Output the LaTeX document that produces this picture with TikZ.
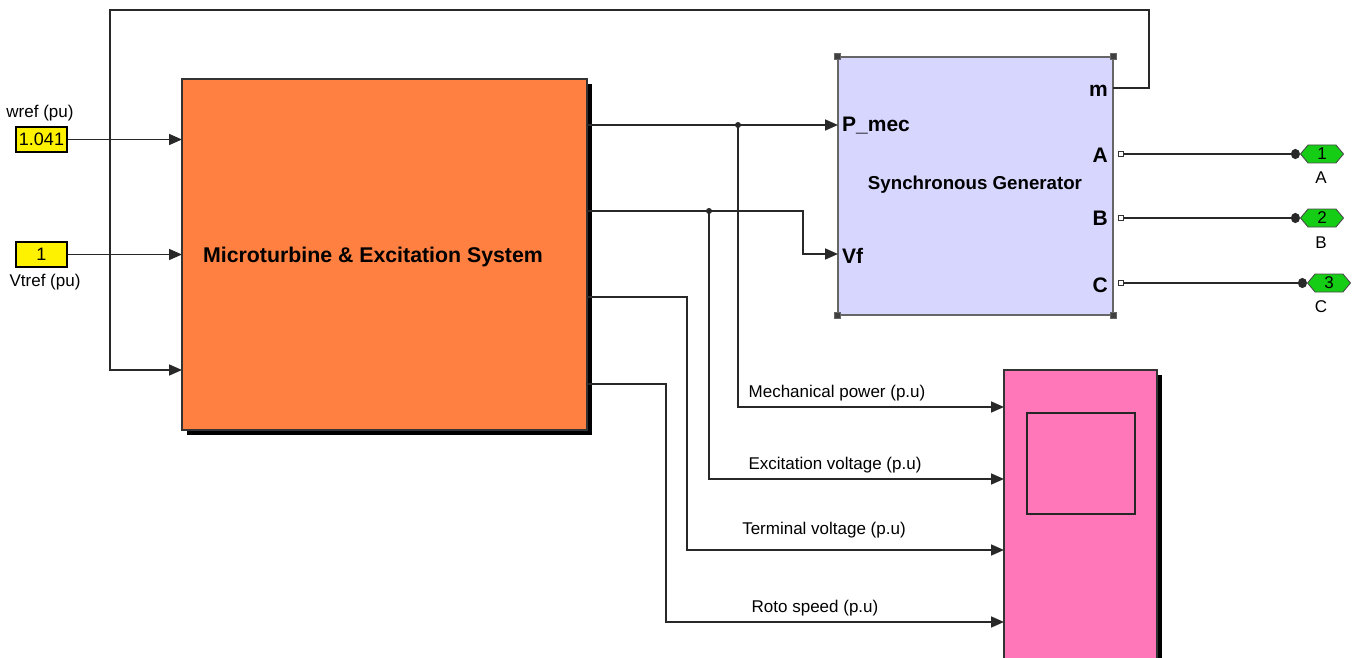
\documentclass[tikz,border=0pt]{standalone}
\usepackage{fontspec}
\setmainfont{Liberation Sans}
\usetikzlibrary{arrows.meta,shapes.symbols,shadows,calc}
\definecolor{orangeblk}{RGB}{255,128,64}
\definecolor{lavblk}{RGB}{214,214,255}
\definecolor{pinkblk}{RGB}{255,119,185}
\definecolor{portgreen}{RGB}{20,205,20}
\definecolor{wire}{RGB}{40,40,40}
\begin{document}
\begin{tikzpicture}[x=1pt,y=-1pt,
  sig/.style={draw=wire, line width=1.7pt, -{Triangle[length=13pt,width=11pt]}},
  dotend/.style={draw=wire, line width=1.7pt, -{Circle[length=9pt,width=10pt]}},
  blkshadow/.style={general shadow={fill=black, shadow xshift=5pt, shadow yshift=-5pt}},
  lbl/.style={inner sep=0pt, font=\fontsize{17}{20}\selectfont},
  plbl/.style={inner sep=0pt, font=\fontsize{21}{24}\selectfont\bfseries},
  constbox/.style={draw=black, line width=1.2pt, fill=yellow, minimum width=51pt, minimum height=25pt, inner sep=0pt, font=\fontsize{18}{20}\selectfont},
  outport/.style={shape=signal, signal to=east and west, signal pointer angle=100, fill=portgreen, draw=black!70, line width=0.9pt, minimum width=43pt, minimum height=18pt, inner sep=0pt, font=\fontsize{17}{18}\selectfont},
  handle/.style={draw=black!60, fill=black!75, minimum size=6pt, inner sep=0pt, line width=0.5pt},
  portsq/.style={draw=black!80, fill=white, minimum size=5pt, inner sep=0pt, line width=0.8pt},
  jdot/.style={circle, fill=wire, minimum size=6pt, inner sep=0pt}
]
\useasboundingbox (0,0) rectangle (1360,658);
\clip (0,0) rectangle (1360,658);
\fill[white] (0,0) rectangle (1360,658);

% main block
\node[blkshadow, draw=black!80, line width=1.2pt, fill=orangeblk, minimum width=405pt, minimum height=351pt, inner sep=0pt] (mts) at (384.5,254.5) {};
\node[inner sep=0pt, font=\fontsize{21.3}{24}\selectfont\bfseries] (mtsl) at (373,257) {Microturbine \& Excitation System};

% synchronous generator
\node[draw=black!60, line width=1.4pt, fill=lavblk, minimum width=275pt, minimum height=258pt, inner sep=0pt] (sg) at (975.5,186) {};
\node[inner sep=0pt, font=\fontsize{18.7}{22}\selectfont\bfseries] (sgl) at (975,185) {Synchronous Generator};
\node[handle] (hnw) at (sg.north west) {};
\node[handle] (hne) at (sg.north east) {};
\node[handle] (hsw) at (sg.south west) {};
\node[handle] (hse) at (sg.south east) {};
\node[plbl, anchor=west] (lpmec) at (842,126) {P\_mec};
\node[plbl, anchor=west] (lvf) at (842,256) {Vf};
\node[plbl, anchor=east] (lm) at (1108,91) {m};
\node[plbl, anchor=east] (la) at (1108,155) {A};
\node[plbl, anchor=east] (lb) at (1108,218) {B};
\node[plbl, anchor=east] (lc) at (1108,285) {C};

% scope
\node[blkshadow, draw=black!80, line width=1.2pt, fill=pinkblk, minimum width=153pt, minimum height=292pt, inner sep=0pt] (scope) at (1080.5,516) {};
\node[draw=black!85, line width=1.4pt, fill=pinkblk, minimum width=108pt, minimum height=101pt, inner sep=0pt] (scr) at (1081,463.5) {};

% constants
\node[constbox] (wref) at (41.5,139.5) {1.041};
\node[lbl] (wrefl) at (40,113) {wref (pu)};
\node[constbox] (vt) at (41.5,254.5) {1};
\node[lbl] (vtl) at (45,282) {Vtref (pu)};

% ports coordinates
\coordinate (in1) at (182,139.5);
\coordinate (in2) at (182,254.5);
\coordinate (in3) at (182,370);
\coordinate (o1) at (587,125);
\coordinate (o2) at (587,211);
\coordinate (o3) at (587,297);
\coordinate (o4) at (587,384);
\coordinate (pmec) at (838,125);
\coordinate (vf) at (838,254);
\coordinate (vfb) at (803,254);
\coordinate (mport) at (1113,88);
\coordinate (fb1) at (1149,10);
\coordinate (fb2) at (110,370);
\coordinate (j1) at (738,125);
\coordinate (j2) at (709,211);
\coordinate (s1) at (1004,407);
\coordinate (s2) at (1004,479);
\coordinate (s3) at (1004,550);
\coordinate (s4) at (1004,622);
\coordinate (b3) at (687,550);
\coordinate (b4) at (666,622);

% feedback loop
\draw[sig] (mport) -| (fb1) -| (fb2) -- (in3);
% constant inputs
\draw[sig] (wref.east) -- (in1);
\draw[sig] (vt.east) -- (in2);

% outputs
\draw[sig] (o1) -- (pmec);
\draw[sig] (o2) -| (vfb) -- (vf);
\draw[sig] (j1) |- (s1);
\draw[sig] (j2) |- (s2);
\draw[sig] (o3) -| (b3) -- (s3);
\draw[sig] (o4) -| (b4) -- (s4);
\node[jdot] (jd1) at (j1) {};
\node[jdot] (jd2) at (j2) {};

\node[lbl] (t1) at (837,393) {Mechanical power (p.u)};
\node[lbl] (t2) at (835,465) {Excitation voltage (p.u)};
\node[lbl] (t3) at (824,530) {Terminal voltage (p.u)};
\node[lbl] (t4) at (815,608) {Roto speed (p.u)};

% outports
\node[portsq] (pa) at (1121,154) {};
\node[portsq] (pb) at (1121,218) {};
\node[portsq] (pc) at (1121,283) {};
\node[outport] (h1) at (1322,154) {1};
\node[outport] (h2) at (1322,218) {2};
\node[outport] (h3) at (1329,283) {3};
\draw[dotend] (pa.east) -- (h1.west);
\draw[dotend] (pb.east) -- (h2.west);
\draw[dotend] (pc.east) -- (h3.west);
\node[lbl] (ha) at (1321,178) {A};
\node[lbl] (hb) at (1321,243) {B};
\node[lbl] (hc) at (1321,307) {C};
\end{tikzpicture}
\end{document}
